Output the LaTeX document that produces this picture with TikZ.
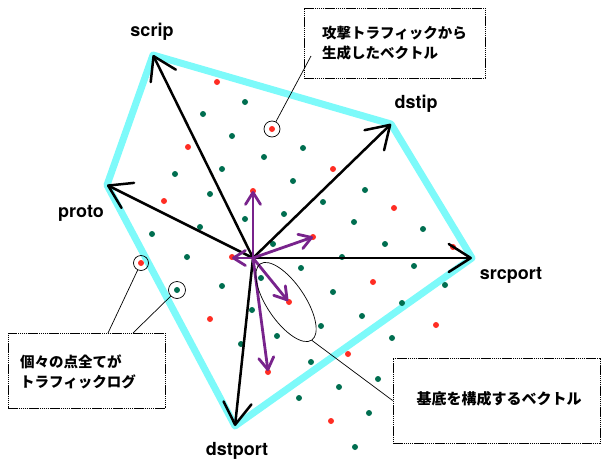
\documentclass[tikz,border=0pt]{standalone}
\usepackage{fontspec}
\setmainfont{TeX Gyre Heros}
\newfontfamily\jp{Noto Sans CJK JP}
\usetikzlibrary{arrows.meta,shapes.geometric}
\definecolor{cyanedge}{RGB}{125,250,250}
\definecolor{dotgreen}{RGB}{0,110,80}
\definecolor{dotred}{RGB}{255,45,35}
\definecolor{vecpurple}{RGB}{120,35,140}
\begin{document}
\begin{tikzpicture}[x=1pt,y=-1pt,
  axis/.style={line width=2.5pt,-{Straight Barb[length=22pt,width=28pt,round]}},
  basis/.style={vecpurple,line width=2.8pt,-{Straight Barb[length=12pt,width=15pt,round]}},
  axlabel/.style={font=\bfseries\fontsize{18}{20}\selectfont,inner sep=0pt},
  note/.style={draw,line width=0.8pt,dash pattern=on 1.5pt off 0.6pt},
  notetext/.style={font=\jp\bfseries\fontsize{14.5}{20}\selectfont,align=left,inner sep=0pt},
  ring/.style={circle,draw,line width=0.7pt,inner sep=0pt},
  leader/.style={line width=0.7pt},
  gdot/.style={fill=dotgreen},
  rdot/.style={fill=dotred}]
\useasboundingbox (0,0) rectangle (603,464);

% vertices
\coordinate (O) at (253,258);
\coordinate (scrip) at (153,55);
\coordinate (dstip) at (391,124);
\coordinate (srcport) at (472,258);
\coordinate (dstport) at (235,426);
\coordinate (proto) at (107,185);

\draw[cyanedge,line width=7pt,line join=round,line cap=round]
  (scrip) -- (dstip) -- (srcport) -- (dstport) -- (proto) -- cycle;

% dots
\foreach \p in {(245,102),(203,114),(232,136),(264,157),(222,169),(175,174),(293,181),
  (210,194),(284,214),(245,219),(200,227),(152,234),(187,257),(222,286),(177,290),
  (252,310),(323,202),(273,244),(342,257),(301,268),(261,278),(333,292),(321,326),
  (277,336),(241,344),(311,362),(303,148),(365,190),(354,222),(423,229),(385,244),
  (414,266),(445,285),(402,303),(362,316),(392,338),(378,379),(339,387),(299,398),
  (369,413),(355,447)}
  \fill[gdot] \p circle (3);
\foreach \p in {(217,82),(272,129),(188,147),(164,201),(253,191),(232,257),(141,263),
  (210,319),(333,169),(313,237),(289,302),(348,354),(268,372),(394,208),(453,247),
  (373,282),(436,325),(331,421)}
  \fill[rdot] \p circle (3);

% axis vectors
\foreach \v in {scrip,dstip,srcport,dstport,proto}
  \draw[axis] (O) -- (\v);

% basis vectors
\coordinate (b1) at (253,191);
\coordinate (b2) at (313,237);
\coordinate (b3) at (232,258);
\coordinate (b4) at (288,301);
\coordinate (b5) at (268,371);
\foreach \v in {b1,b2,b3,b4,b5}
  \draw[basis] (O) -- (\v);

% labels
\node[axlabel] (lscrip) at (152,32) {scrip};
\node[axlabel] (ldstip) at (416,104) {dstip};
\node[axlabel] (lproto) at (81,213) {proto};
\node[axlabel] (lsrcport) at (511,275) {srcport};
\node[axlabel] (ldstport) at (237,451) {dstport};

% notes
\node[note,minimum width=181pt,minimum height=70pt] (topbox) at (394.5,43) {};
\node[notetext] (toptext) at (topbox.center) {攻撃トラフィックから\\生成したベクトル};
\node[note,minimum width=157pt,minimum height=75pt] (blbox) at (86.5,370.5) {};
\node[notetext,anchor=west] (bltext) at (20,372) {個々の点全てが\\トラフィックログ};
\node[note,minimum width=207pt,minimum height=85pt] (rbox) at (496.5,400.5) {};
\node[notetext,font=\jp\bfseries\fontsize{15}{20}\selectfont] (rtext) at (499,399) {基底を構成するベクトル};

% highlight rings
\node[ring,minimum size=16pt] (c1) at (272,129) {};
\node[ring,minimum size=15pt] (c2) at (141,263) {};
\node[ring,minimum size=17pt] (c3) at (177,290) {};
\node[ellipse,draw,line width=0.7pt,inner sep=0pt,minimum width=92pt,minimum height=38pt,rotate=-56] (ell) at (286,302) {};

% leaders
\coordinate (t1) at (311,56);
\coordinate (bl1) at (108,333);
\coordinate (bl2) at (133,333);
\draw[leader] (c1) -- (t1);
\draw[leader] (c2) -- (bl1);
\draw[leader] (c3) -- (bl2);
\draw[leader] (ell.east) -- (rbox.west);
\end{tikzpicture}
\end{document}
